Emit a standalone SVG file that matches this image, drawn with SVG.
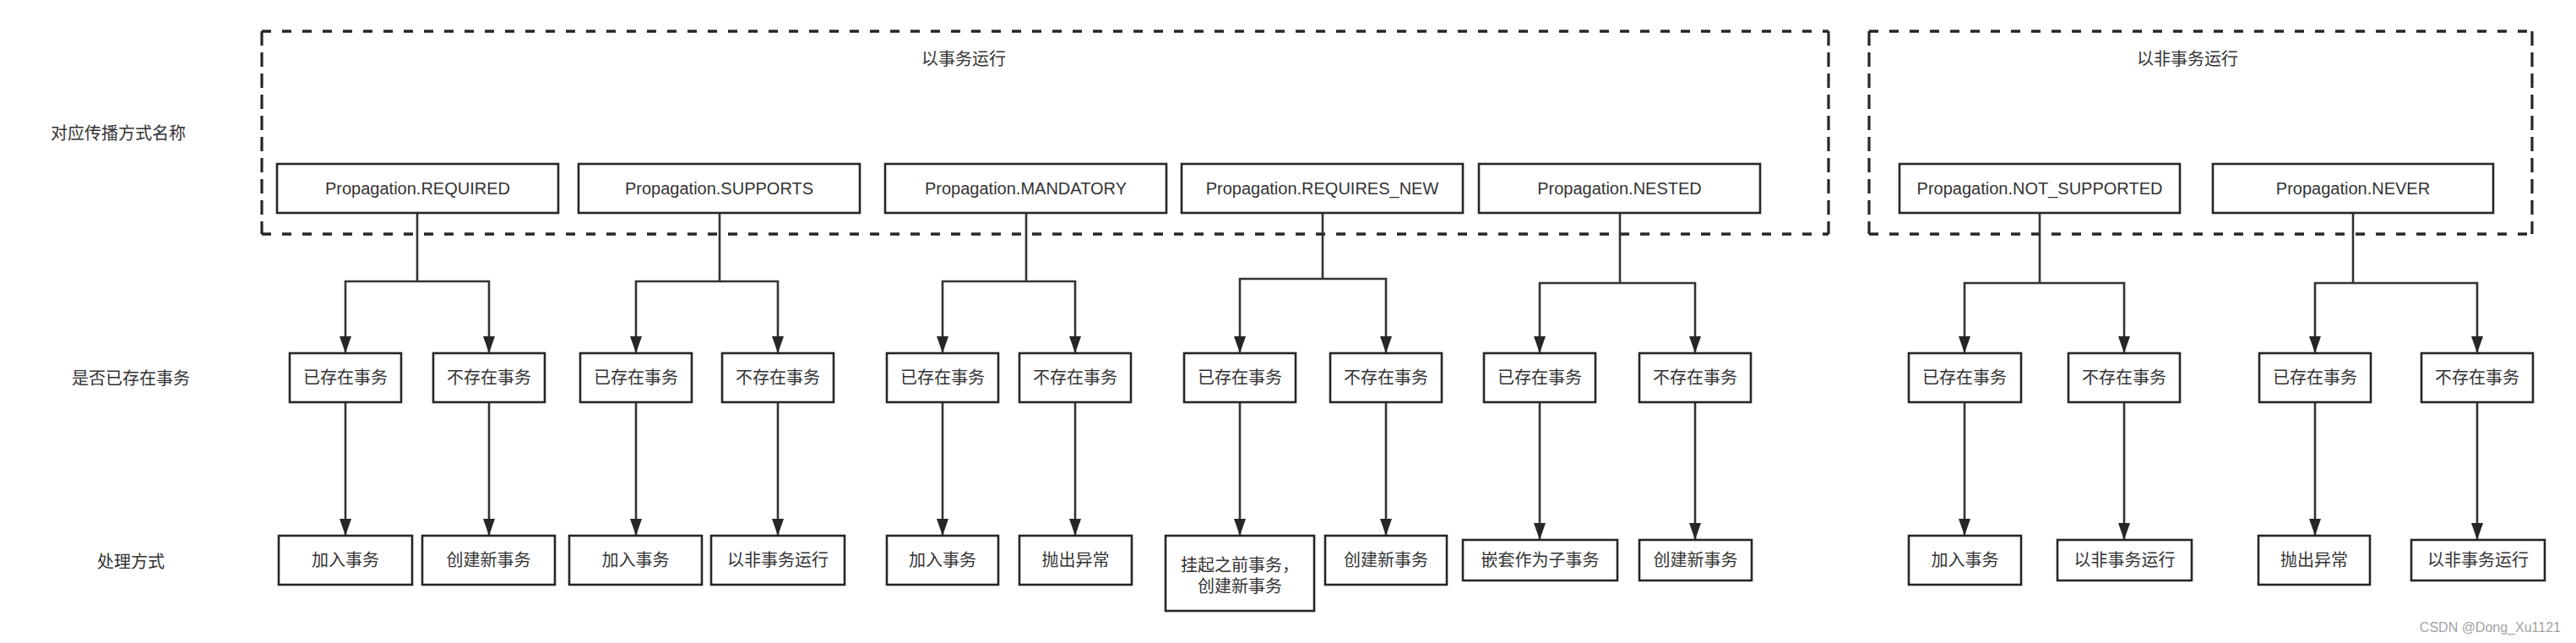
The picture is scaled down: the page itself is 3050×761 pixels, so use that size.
<svg xmlns="http://www.w3.org/2000/svg" width="3050" height="761" viewBox="0 0 3050 761">
<style>
.box{fill:#fff;stroke:#262626;stroke-width:2.6}
.t{font-family:"Liberation Sans","Noto Sans CJK SC",sans-serif;font-size:20px;fill:#333;text-anchor:middle}
.lbl{font-family:"Noto Sans CJK SC","Liberation Sans",sans-serif;font-size:20px;fill:#333;text-anchor:middle}
.dh{fill:none;stroke:#23272a;stroke-width:3.5;stroke-dasharray:11 13}
.dv{fill:none;stroke:#23272a;stroke-width:3.2;stroke-dasharray:17 8}
.c{fill:none;stroke:#333;stroke-width:2.6}
.a{fill:none;stroke:#333;stroke-width:2.6;marker-end:url(#arr)}
.wm{font-family:"Liberation Sans",sans-serif;font-size:16px;fill:#a3a3a3;text-anchor:end}
</style>
<defs>
<marker id="arr" viewBox="0 0 20 14" refX="20" refY="7" markerWidth="20" markerHeight="14" markerUnits="userSpaceOnUse" orient="auto">
<path d="M0,0 L20,7 L0,14 z" fill="#262626"/>
</marker>
</defs>
<rect width="3050" height="761" fill="#fff"/>

<g id="group-transactional">
<line class="dh" x1="310" y1="37" x2="2165" y2="37"/>
<line class="dh" x1="310" y1="277" x2="2165" y2="277"/>
<line class="dv" x1="310" y1="37" x2="310" y2="277"/>
<line class="dv" x1="2165" y1="37" x2="2165" y2="277"/>
<text class="lbl" x="1141" y="77">以事务运行</text>
</g>
<g id="group-nontransactional">
<line class="dh" x1="2213" y1="37" x2="2998" y2="37"/>
<line class="dh" x1="2213" y1="277" x2="2998" y2="277"/>
<line class="dv" x1="2213" y1="37" x2="2213" y2="277"/>
<line class="dv" x1="2998" y1="37" x2="2998" y2="277"/>
<text class="lbl" x="2590" y="77">以非事务运行</text>
</g>

<g id="row-labels">
<text class="lbl" x="140" y="165">对应传播方式名称</text>
<text class="lbl" x="155" y="455">是否已存在事务</text>
<text class="lbl" x="155" y="672">处理方式</text>
</g>

<g id="connectors">
<path class="c" d="M494,252 V333"/><path class="a" d="M494,333 H409 V418"/><path class="a" d="M494,333 H579 V418"/>
<path class="a" d="M409,476 V634"/><path class="a" d="M579,476 V634"/>
<path class="c" d="M852,252 V333"/><path class="a" d="M852,333 H753 V418"/><path class="a" d="M852,333 H921 V418"/>
<path class="a" d="M753,476 V634"/><path class="a" d="M921,476 V634"/>
<path class="c" d="M1215,252 V333"/><path class="a" d="M1215,333 H1116 V418"/><path class="a" d="M1215,333 H1273 V418"/>
<path class="a" d="M1116,476 V634"/><path class="a" d="M1273,476 V634"/>
<path class="c" d="M1566,252 V330"/><path class="a" d="M1566,330 H1468 V418"/><path class="a" d="M1566,330 H1641 V418"/>
<path class="a" d="M1468,476 V634"/><path class="a" d="M1641,476 V634"/>
<path class="c" d="M1918,252 V335"/><path class="a" d="M1918,335 H1823 V418"/><path class="a" d="M1918,335 H2007 V418"/>
<path class="a" d="M1823,476 V639"/><path class="a" d="M2007,476 V639"/>
<path class="c" d="M2415,252 V335"/><path class="a" d="M2415,335 H2326 V418"/><path class="a" d="M2415,335 H2515 V418"/>
<path class="a" d="M2326,476 V634"/><path class="a" d="M2515,476 V639"/>
<path class="c" d="M2786,252 V335"/><path class="a" d="M2786,335 H2741 V418"/><path class="a" d="M2786,335 H2933 V418"/>
<path class="a" d="M2741,476 V634"/><path class="a" d="M2933,476 V639"/>
</g>

<g id="n-required"><rect class="box" x="328" y="194" width="333" height="58"/><text class="t" x="494.5" y="230">Propagation.REQUIRED</text></g>
<g id="n-supports"><rect class="box" x="685" y="194" width="333" height="58"/><text class="t" x="851.5" y="230">Propagation.SUPPORTS</text></g>
<g id="n-mandatory"><rect class="box" x="1048" y="194" width="333" height="58"/><text class="t" x="1214.5" y="230">Propagation.MANDATORY</text></g>
<g id="n-requires-new"><rect class="box" x="1399" y="194" width="333" height="58"/><text class="t" x="1565.5" y="230">Propagation.REQUIRES_NEW</text></g>
<g id="n-nested"><rect class="box" x="1751" y="194" width="333" height="58"/><text class="t" x="1917.5" y="230">Propagation.NESTED</text></g>
<g id="n-not-supported"><rect class="box" x="2249" y="194" width="332" height="58"/><text class="t" x="2415" y="230">Propagation.NOT_SUPPORTED</text></g>
<g id="n-never"><rect class="box" x="2620" y="194" width="332" height="58"/><text class="t" x="2786" y="230">Propagation.NEVER</text></g>

<g id="m1a"><rect class="box" x="343" y="418" width="132" height="58"/><text class="t" x="409" y="454">已存在事务</text></g>
<g id="m1b"><rect class="box" x="513" y="418" width="132" height="58"/><text class="t" x="579" y="454">不存在事务</text></g>
<g id="m2a"><rect class="box" x="687" y="418" width="132" height="58"/><text class="t" x="753" y="454">已存在事务</text></g>
<g id="m2b"><rect class="box" x="855" y="418" width="132" height="58"/><text class="t" x="921" y="454">不存在事务</text></g>
<g id="m3a"><rect class="box" x="1050" y="418" width="132" height="58"/><text class="t" x="1116" y="454">已存在事务</text></g>
<g id="m3b"><rect class="box" x="1207" y="418" width="132" height="58"/><text class="t" x="1273" y="454">不存在事务</text></g>
<g id="m4a"><rect class="box" x="1402" y="418" width="132" height="58"/><text class="t" x="1468" y="454">已存在事务</text></g>
<g id="m4b"><rect class="box" x="1575" y="418" width="132" height="58"/><text class="t" x="1641" y="454">不存在事务</text></g>
<g id="m5a"><rect class="box" x="1757" y="418" width="132" height="58"/><text class="t" x="1823" y="454">已存在事务</text></g>
<g id="m5b"><rect class="box" x="1941" y="418" width="132" height="58"/><text class="t" x="2007" y="454">不存在事务</text></g>
<g id="m6a"><rect class="box" x="2260" y="418" width="133" height="58"/><text class="t" x="2326" y="454">已存在事务</text></g>
<g id="m6b"><rect class="box" x="2449" y="418" width="132" height="58"/><text class="t" x="2515" y="454">不存在事务</text></g>
<g id="m7a"><rect class="box" x="2675" y="418" width="132" height="58"/><text class="t" x="2741" y="454">已存在事务</text></g>
<g id="m7b"><rect class="box" x="2867" y="418" width="132" height="58"/><text class="t" x="2933" y="454">不存在事务</text></g>

<g id="b1a"><rect class="box" x="330" y="634" width="158" height="58"/><text class="t" x="409" y="670">加入事务</text></g>
<g id="b1b"><rect class="box" x="500" y="634" width="157" height="58"/><text class="t" x="578.5" y="670">创建新事务</text></g>
<g id="b2a"><rect class="box" x="674" y="634" width="157" height="58"/><text class="t" x="752.5" y="670">加入事务</text></g>
<g id="b2b"><rect class="box" x="842" y="634" width="158" height="58"/><text class="t" x="921" y="670">以非事务运行</text></g>
<g id="b3a"><rect class="box" x="1050" y="634" width="132" height="58"/><text class="t" x="1116" y="670">加入事务</text></g>
<g id="b3b"><rect class="box" x="1207" y="634" width="133" height="58"/><text class="t" x="1273.5" y="670">抛出异常</text></g>
<g id="b4a"><rect class="box" x="1380" y="634" width="176" height="89"/><text class="t" x="1468" y="676">挂起之前事务，</text><text class="t" x="1468" y="701">创建新事务</text></g>
<g id="b4b"><rect class="box" x="1569" y="634" width="144" height="58"/><text class="t" x="1641" y="670">创建新事务</text></g>
<g id="b5a"><rect class="box" x="1732" y="639" width="183" height="48"/><text class="t" x="1823.5" y="670">嵌套作为子事务</text></g>
<g id="b5b"><rect class="box" x="1941" y="639" width="133" height="48"/><text class="t" x="2007.5" y="670">创建新事务</text></g>
<g id="b6a"><rect class="box" x="2260" y="634" width="133" height="58"/><text class="t" x="2326.5" y="670">加入事务</text></g>
<g id="b6b"><rect class="box" x="2436" y="639" width="159" height="48"/><text class="t" x="2515.5" y="670">以非事务运行</text></g>
<g id="b7a"><rect class="box" x="2674" y="634" width="132" height="58"/><text class="t" x="2740" y="670">抛出异常</text></g>
<g id="b7b"><rect class="box" x="2855" y="639" width="158" height="48"/><text class="t" x="2934" y="670">以非事务运行</text></g>

<text class="wm" x="3032" y="748">CSDN @Dong_Xu1121</text>
</svg>
